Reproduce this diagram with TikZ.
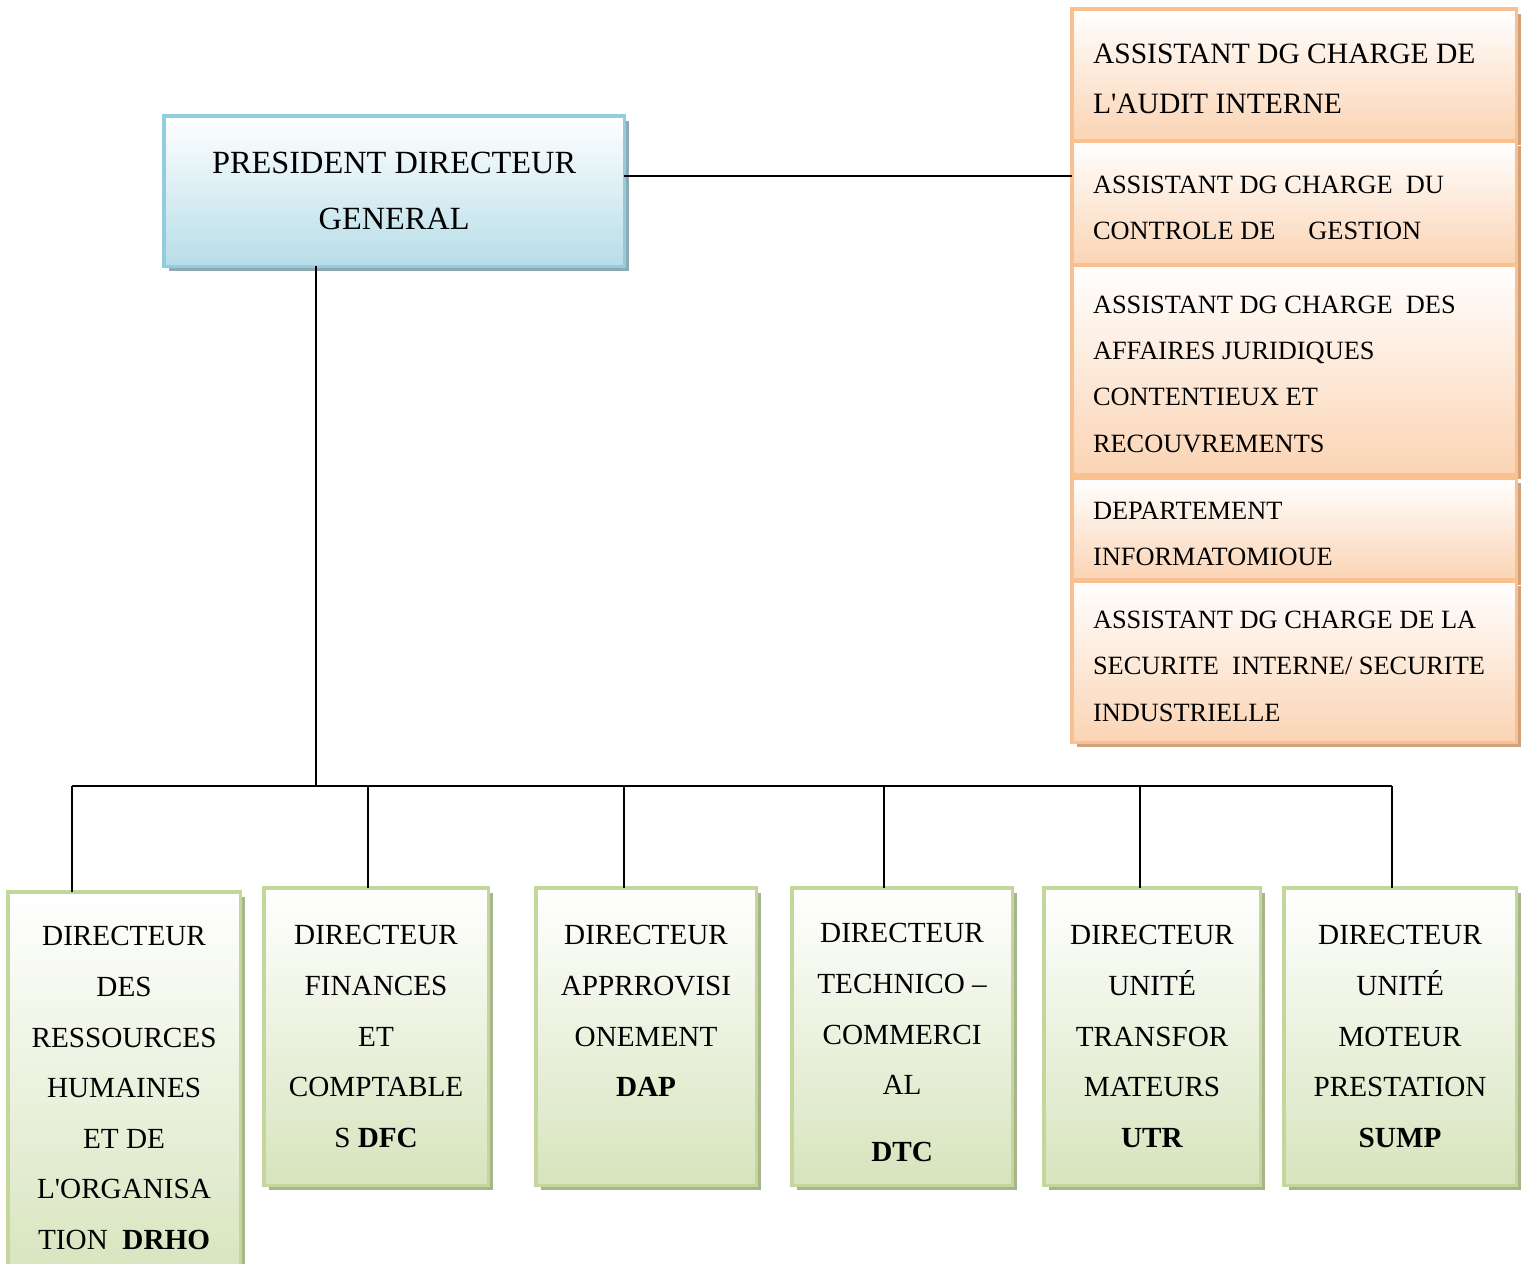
\documentclass[tikz,border=0pt]{standalone}
\usepackage{fontspec}
\setmainfont{Liberation Serif}
\usepackage{xcolor}
\usepackage{tikz}
\usetikzlibrary{shadows,positioning}
\definecolor{pdgBlue}{HTML}{B7DDE8}
\definecolor{pdgEdge}{HTML}{93CDDD}
\definecolor{pdgShade}{HTML}{8EA9B2}
\definecolor{asstOrange}{HTML}{FBD4B4}
\definecolor{asstEdge}{HTML}{FAC08F}
\definecolor{asstShade}{HTML}{CFA07C}
\definecolor{dirGreen}{HTML}{D7E4BD}
\definecolor{dirEdge}{HTML}{C3D69B}
\definecolor{dirShade}{HTML}{A6B58A}
\newcommand{\asstgap}[1][7.7pt]{\rule{0pt}{#1}}

\begin{document}
\begin{tikzpicture}[
  x=0.01cm, y=-0.01cm,
  every node/.style={inner sep=0pt, outer sep=0pt, anchor=north west},
  link/.style={line width=0.8pt, black},
  pdgbox/.style={draw=pdgEdge, line width=0.9pt, top color=white, bottom color=pdgBlue,
    minimum width=4.6cm, minimum height=1.5cm, align=center,
    font=\fontsize{9.2}{15.9}\selectfont,
    drop shadow={shadow xshift=0.05cm, shadow yshift=-0.05cm, fill=pdgShade, opacity=1}},
  asstbox/.style={draw=asstEdge, line width=0.9pt, top color=white, bottom color=asstOrange,
    minimum width=4.44cm, text width=4.02cm, inner xsep=0.21cm, align=flush left,
    font=\fontsize{7.5}{13.1}\selectfont,
    drop shadow={shadow xshift=0.05cm, shadow yshift=-0.05cm, fill=asstShade, opacity=1}},
  dirbox/.style={draw=dirEdge, line width=0.9pt, top color=white, bottom color=dirGreen,
    minimum height=2.97cm, align=center,
    font=\fontsize{8.3}{14.4}\selectfont,
    drop shadow={shadow xshift=0.05cm, shadow yshift=-0.05cm, fill=dirShade, opacity=1}}
]
\useasboundingbox (0,0) rectangle (1521,1263);

% ── Top: president ───────────────────────────────────────────────────────
\node[pdgbox] (pdg) at (164,116) {PRESIDENT DIRECTEUR\\GENERAL};

% ── Right column: assistants ─────────────────────────────────────────────
\node[asstbox, minimum height=1.31cm, font=\fontsize{8.4}{14.2}\selectfont] (aud) at (1072,9)
  {\asstgap[7.9pt]ASSISTANT DG CHARGE DE\\L\textquotesingle AUDIT INTERNE};
\node[asstbox, minimum height=1.24cm] (ctl) at (1072,141)
  {\asstgap ASSISTANT DG CHARGE~ DU\\CONTROLE DE \quad GESTION};
\node[asstbox, minimum height=2.09cm] (jur) at (1072,265)
  {\asstgap ASSISTANT DG CHARGE~ DES\\AFFAIRES JURIDIQUES\\CONTENTIEUX ET\\RECOUVREMENTS};
\node[asstbox, minimum height=1.02cm] (inf) at (1072,478)
  {\asstgap DEPARTEMENT\\INFORMATOMIOUE};
\node[asstbox, minimum height=1.61cm] (sec) at (1072,581)
  {\asstgap ASSISTANT DG CHARGE DE LA\\SECURITE~ INTERNE/ SECURITE\\INDUSTRIELLE};

% ── Bottom row: directors ────────────────────────────────────────────────
\node[dirbox, minimum width=2.32cm, minimum height=3.92cm] (drho) at (8,892)
  {DIRECTEUR\\DES\\RESSOURCES\\HUMAINES\\ET DE\\L\textquotesingle ORGANISA\\TION~ \textbf{DRHO}};
\node[dirbox, minimum width=2.24cm] (dfc) at (264,888)
  {DIRECTEUR\\FINANCES\\ET\\COMPTABLE\\S \textbf{DFC}};
\node[dirbox, minimum width=2.20cm] (dap) at (536,888)
  {DIRECTEUR\\APPRROVISI\\ONEMENT\\\textbf{DAP}\\\mbox{}};
\node[dirbox, minimum width=2.20cm] (dtc) at (792,888)
  {\asstgap[9pt]DIRECTEUR\\TECHNICO –\\COMMERCI\\AL\\[4.7pt]\textbf{DTC}};
\node[dirbox, minimum width=2.16cm] (utr) at (1044,888)
  {DIRECTEUR\\UNITÉ\\TRANSFOR\\MATEURS\\\textbf{UTR}};
\node[dirbox, minimum width=2.32cm] (sump) at (1284,888)
  {DIRECTEUR\\UNITÉ\\MOTEUR\\PRESTATION\\\textbf{SUMP}};

% ── Connectors ───────────────────────────────────────────────────────────
\coordinate (bus) at (316,786);
\draw[link] ([yshift=0.15cm]pdg.east) -- ([yshift=0.15cm]pdg.east -| ctl.west);
\draw[link] (bus |- pdg.south) -- (bus);
\draw[link] ([xshift=-5.2mm]drho.north |- bus) -- ([xshift=-0.8mm]sump.north |- bus);
\foreach \n/\s in {drho/-5.2mm, dfc/-0.8mm, dap/-2.2mm, dtc/-1.8mm, utr/-1.2mm, sump/-0.8mm}
  \draw[link] ([xshift=\s]\n.north) -- ([xshift=\s]\n.north |- bus);

\end{tikzpicture}
\end{document}
